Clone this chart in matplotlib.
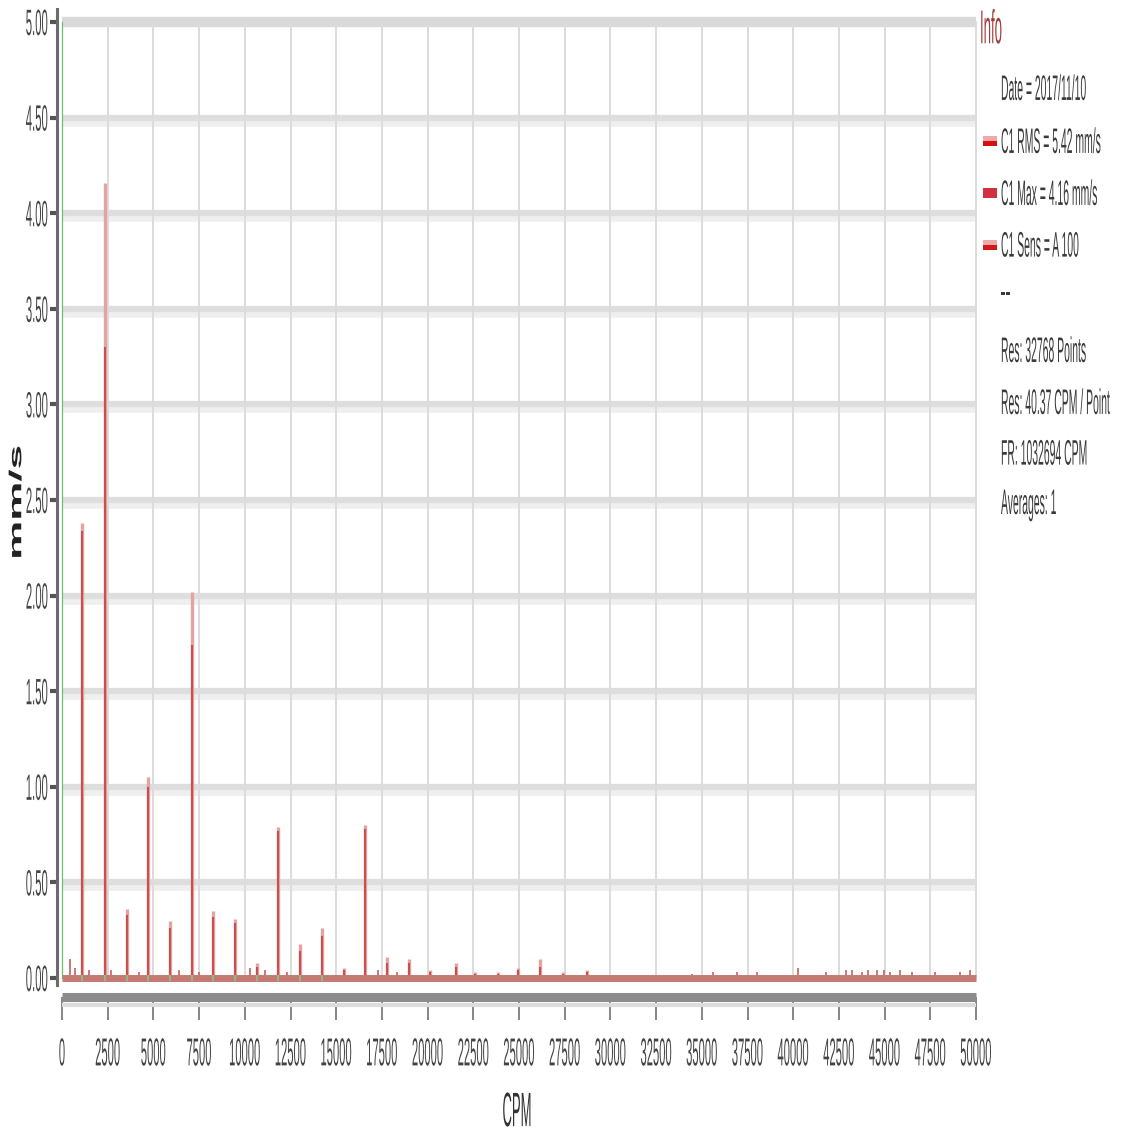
import matplotlib
matplotlib.use("Agg")
import matplotlib.pyplot as plt
from matplotlib import patheffects
from matplotlib.transforms import Affine2D
from matplotlib.lines import Line2D
from matplotlib.patches import Rectangle

plt.rcParams['font.family'] = ['Liberation Sans', 'DejaVu Sans']

# spectrum lines (CPM) with the peak-hold and the averaged amplitude in mm/s
harm_cpm = [1100, 2350, 3550, 4700, 5900, 7100, 8250, 9450, 10650, 11800, 13000, 14200,
            15400, 16600, 17800, 19000, 20150, 21550, 22600, 23850, 24950, 26150, 27400, 28700]
peak_max = [2.38, 4.16, 0.36, 1.05, 0.30, 2.02, 0.35, 0.31, 0.08, 0.79, 0.18, 0.26,
            0.05, 0.80, 0.11, 0.10, 0.04, 0.08, 0.03, 0.03, 0.05, 0.10, 0.03, 0.04]
peak_avg = [2.34, 3.30, 0.33, 1.00, 0.26, 1.74, 0.32, 0.29, 0.06, 0.77, 0.14, 0.22,
            0.04, 0.78, 0.08, 0.08, 0.03, 0.06, 0.02, 0.02, 0.04, 0.06, 0.02, 0.03]

# low level lines sitting on the noise floor
floor_cpm = [450, 700, 1500, 2700, 4200, 6400, 7500, 10300, 11100, 12300, 17300, 18300,
             34460, 35610, 36920, 38010, 40260, 41790, 42890, 43210, 43760, 44090,
             44580, 44960, 45290, 45840, 46500, 47750, 49120, 49670]
floor_amp = [0.10, 0.05, 0.04, 0.04, 0.03, 0.04, 0.03, 0.05, 0.04, 0.03, 0.04, 0.03,
             0.02, 0.03, 0.03, 0.03, 0.05, 0.03, 0.04, 0.04, 0.03, 0.04,
             0.04, 0.04, 0.03, 0.04, 0.03, 0.03, 0.03, 0.04]

x_ticks = list(range(0, 50001, 2500))
y_ticks = [0.0, 0.5, 1.0, 1.5, 2.0, 2.5, 3.0, 3.5, 4.0, 4.5, 5.0]

info_title = 'Info'
info_lines = ['Date = 2017/11/10', 'C1 RMS = 5.42 mm/s', 'C1 Max = 4.16 mm/s', 'C1 Sens = A 100',
              '--', 'Res: 32768 Points', 'Res: 40.37 CPM / Point', 'FR: 1032694 CPM', 'Averages: 1']
info_y = [88, 141, 193, 245, 293, 350, 402, 453, 505]

W, H = 1122, 1136


def fx(px):
    return px / W


def fy(py):
    return 1 - py / H


class Squeeze(patheffects.AbstractPathEffect):
    """Narrow, tall lettering: rescale the glyph path around an anchor of its box."""

    def __init__(self, sx, sy, anchor=0.5):
        super().__init__()
        self.sx, self.sy, self.anchor = sx, sy, anchor

    def draw_path(self, renderer, gc, tpath, affine, rgbFace=None):
        ext = tpath.get_extents()
        cx = ext.x0 + self.anchor * ext.width
        cy = ext.y0 + 0.5 * ext.height
        t = Affine2D().translate(-cx, -cy).scale(self.sx, self.sy).translate(cx, cy)
        renderer.draw_path(gc, tpath, t + affine, rgbFace)


fig = plt.figure(figsize=(W / 100, H / 100), dpi=100)
ax = fig.add_axes([fx(62), fy(978), fx(976) - fx(62), fy(22) - fy(978)])
ax.set_xlim(0, 50000)
ax.set_ylim(0, 5)

px_per_unit = (978 - 22) / 5.0

# horizontal grid bands
for v in y_ticks[1:]:
    if v == 5.0:
        ax.axhline(v, color='#d9d9d9', lw=7.5, zorder=0, clip_on=False, solid_capstyle='butt')
    else:
        ax.axhline(v - 4 / px_per_unit, color='#efefef', lw=7, zorder=0, solid_capstyle='butt')
        ax.axhline(v, color='#dedede', lw=4.5, zorder=0.2, solid_capstyle='butt')

# vertical grid lines
for c in x_ticks[1:]:
    ax.axvline(c, color='#dcdcdc', lw=1.4, zorder=0.5, clip_on=False)

ax.axvline(0, color='#6dbf6a', lw=0.9, zorder=1, clip_on=False)

# spectrum: peak hold underneath, averaged lines on top
ax.vlines(harm_cpm, 0, peak_max, color='#e3a3a3', lw=2.4, zorder=2)
ax.vlines(harm_cpm, 0, peak_avg, color='#c43c3c', lw=1.5, alpha=0.8, zorder=2.1)
ax.vlines(floor_cpm, 0, floor_amp, color='#cc6b6b', lw=1.3, zorder=2)

# noise floor band and harmonic markers
ax.axhline(0, color='#c47a72', lw=5, zorder=3, clip_on=False, solid_capstyle='butt')
ax.vlines(harm_cpm[:12], -0.015, 0.015, color='#8dba85', lw=1.6, zorder=4, clip_on=False)

for s in ['top', 'right']:
    ax.spines[s].set_visible(False)
ax.spines['left'].set_position(('outward', 3.6))
ax.spines['left'].set_color('#6b6b6b')
ax.spines['left'].set_linewidth(2.2)
ax.spines['left'].set_bounds(-0.035, 5.07)
ax.spines['bottom'].set_position(('outward', 13.7))
ax.spines['bottom'].set_color('#8c8c8c')
ax.spines['bottom'].set_linewidth(6.5)
ax.spines['bottom'].set_capstyle('butt')

fig.add_artist(Line2D([fx(62), fx(976)], [fy(1005), fy(1005)], color='#dcdcdc', lw=3,
                      solid_capstyle='butt'))

ax.set_xticks(x_ticks)
ax.set_xticklabels([str(c) for c in x_ticks])
ax.set_yticks(y_ticks)
ax.set_yticklabels([f'{v:.2f}' for v in y_ticks])
ax.tick_params(axis='x', length=16.5, width=1.1, color='#666666', pad=19.5,
               labelsize=8.5, labelcolor='#444444')
ax.tick_params(axis='y', length=5, width=3, color='#555555', pad=1.5,
               labelsize=8.5, labelcolor='#444444')
ax.set_facecolor('white')

fig.text(fx(517), fy(1111), 'CPM', ha='center', va='center', fontsize=9.4, color='#333333',
         path_effects=[Squeeze(1.0, 3.7)])
fig.text(fx(16), fy(502), 'mm/s', rotation=90, ha='center', va='center', fontsize=10,
         weight='bold', color='#222222', path_effects=[Squeeze(3.17, 1.25)])

# info panel
fig.text(fx(980), fy(28), info_title, ha='left', va='center', fontsize=9.5, color='#a33b3b',
         path_effects=[Squeeze(1.0, 3.6, anchor=0)])
for line, y in zip(info_lines, info_y):
    sx = 1.4 if line == '--' else 1.0
    fig.text(fx(1001), fy(y), line, ha='left', va='center', fontsize=7.5, color='#3a3a3a',
             path_effects=[Squeeze(sx, 3.4, anchor=0)])

# colour keys for the three channel entries
keys = [(141, '#f0a8a8', '#d41010'), (193, '#d03040', '#d03040'), (245, '#f0a8a8', '#d41818')]
for y, top, bottom in keys:
    fig.add_artist(Rectangle((fx(983), fy(y + 5)), 14 / W, 5 / H, transform=fig.transFigure,
                             color=bottom, lw=0))
    fig.add_artist(Rectangle((fx(983), fy(y)), 14 / W, 5 / H, transform=fig.transFigure,
                             color=top, lw=0))

for lbl in ax.get_xticklabels():
    lbl.set_path_effects([Squeeze(0.95, 3.3)])
for lbl in ax.get_yticklabels():
    lbl.set_path_effects([Squeeze(0.96, 3.1, anchor=1)])

fig.savefig('out.png', dpi=100, facecolor='white')
